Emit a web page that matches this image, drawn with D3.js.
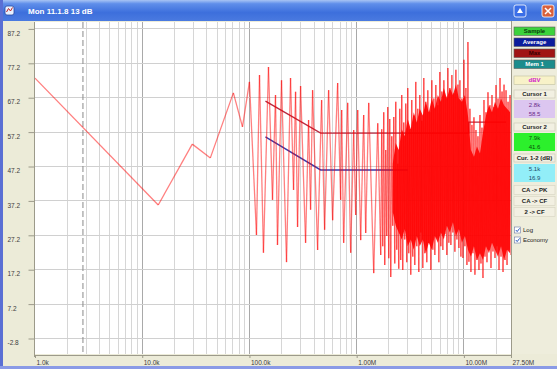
<!DOCTYPE html>
<html>
<head>
<meta charset="utf-8">
<script src="https://cdn.jsdelivr.net/npm/d3@7"></script>
<style>
  html, body { margin: 0; padding: 0; background: #ffffff; }
  svg { display: block; font-family: "Liberation Sans", "DejaVu Sans", Arial, sans-serif; }
</style>
</head>
<body>
<svg id="win" width="557" height="369"></svg>
<script>
// ---- window / axis text ----
const titleText = "Mon 11.1.8 13 dB";

const yTickValues = [87.2, 77.2, 67.2, 57.2, 47.2, 37.2, 27.2, 17.2, 7.2, -2.8];
const yTickLabels = ["87.2", "77.2", "67.2", "57.2", "47.2", "37.2", "27.2", "17.2", "7.2", "-2.8"];

// frequencies in kHz
const xTickValues = [1, 10, 100, 1000, 10000, 27500];
const xTickLabels = ["1.0k", "10.0k", "100.0k", "1.00M", "10.00M", "27.50M"];

// ---- spectrum trace (kHz, dB) ----
const traceKHz = [
  1, 14.1, 29.3, 43.2, 70.8, 86.1, 100,
  116.3, 124.1, 135.1, 150.5, 164.1, 175.0, 182.6, 199.1, 221.7, 241.6,
  257.8, 269.2, 280.9, 299.7, 333.8, 355.9, 371.6, 388.0, 432.1, 470.9,
  502.2, 547.4, 596.7, 664.4, 708.8, 724.2, 756.0, 824.1, 879.0, 937.6,
  978.8, 1022, 1090, 1162, 1214, 1295, 1442, 1572,
  1676, 1712, 1750, 1788, 1827, 1866, 1907, 1949, 1991, 2034,
  2079, 2124, 2170, 2218, 2266, 2315, 2365, 2417, 2469, 2523,
  2576, 2632, 2689, 2748, 2808, 2869, 2931, 2995, 3060, 3127,
  3195, 3264, 3336, 3408, 3483, 3558, 3636, 3715, 3796, 3878,
  3963, 4049, 4137, 4227, 4319, 4413, 4509, 4607, 4708, 4810,
  4915, 5022, 5131, 5243, 5357, 5473, 5593, 5714, 5839, 5966,
  6096, 6228, 6364, 6503, 6644, 6789, 6937, 7088, 7242, 7400,
  7561, 7725, 7894, 8065, 8241, 8420, 8604, 8791, 8983, 9178,
  9378, 9582, 9791, 10004, 10222, 10444, 10672, 10904, 11141, 11384,
  11632, 11885, 12144, 12408, 12678, 12954, 13236, 13524, 13819, 14119,
  14427, 14741, 15062, 15390, 15725, 16067, 16417, 16774, 17139, 17512,
  17893, 18283, 18681, 19088, 19503, 19928, 20361, 20805, 21257, 21720,
  22192, 22676, 23169, 23674, 24188, 24715, 25252, 25802, 26363, 26937,
  27400
];
const traceDb = [
  72.9, 36.0, 53.7, 49.7, 68.6, 58.7, 71.8,
  27.3, 73.8, 22.1, 76.1, 37.5, 68.0, 24.4, 72.3, 19.4, 72.9,
  40.4, 68.9, 29.6, 70.6, 25.0, 60.7, 34.6, 69.4, 22.9, 66.5,
  28.8, 69.4, 31.6, 71.5, 37.5, 63.6, 25.0, 65.7, 22.1, 57.8,
  33.1, 63.6, 25.8, 62.2, 27.9, 65.7, 16.2, 59.8,
  21.5, 58.0, 24.0, 63.0, 18.6, 52.0, 27.0, 64.5, 20.5, 61.0,
  15.1, 56.0, 30.0, 61.6, 19.0, 66.0, 23.0, 48.0, 17.5, 64.0,
  20.0, 68.0, 17.1, 60.0, 26.0, 65.5, 19.4, 70.0, 22.0, 58.0,
  15.7, 66.5, 21.0, 62.0, 18.6, 71.8, 24.0, 64.0, 16.5, 68.0,
  28.0, 60.5, 17.7, 72.9, 22.0, 66.0, 19.4, 69.4, 25.0, 63.0,
  17.1, 72.3, 23.0, 67.0, 21.5, 70.9, 26.5, 65.0, 19.4, 74.7,
  24.0, 69.0, 22.9, 72.3, 27.5, 67.5, 21.5, 75.8, 25.0, 70.0,
  24.4, 73.8, 28.0, 68.5, 22.4, 75.3, 26.0, 71.0, 23.5, 72.3,
  21.0, 67.0, 20.6, 78.2, 24.0, 70.0, 18.6, 83.4, 19.5, 64.0,
  16.5, 59.3, 22.0, 61.5, 15.7, 57.8, 20.0, 56.0, 17.1, 62.2,
  19.0, 58.5, 14.8, 66.5, 21.0, 63.0, 19.4, 68.8, 23.0, 65.0,
  17.7, 68.0, 22.5, 64.5, 20.6, 70.9, 24.0, 67.0, 17.1, 72.9,
  21.0, 69.0, 16.5, 71.0, 20.0, 69.4, 18.6, 66.0, 23.0, 68.0,
  21.5
];

// dense part of the spectrum: lower / upper level of the filled core
const coreKHz = [2170, 2315, 2469, 2632, 2808, 2995, 3195, 3408, 3636, 3878,
                 4137, 4413, 4708, 5022, 5357, 5714, 6096, 6503, 6937, 7400,
                 7894, 8420, 8983, 9582, 10222, 10904, 11632, 12408, 13236, 14119,
                 15062, 16067, 17139, 18283, 19503, 20805, 22192, 23674, 25252, 26937];
const coreLowDb = [34, 30, 28, 26, 29, 24, 26, 23, 27, 24,
                   26, 22, 25, 23, 27, 25, 28, 26, 30, 28,
                   31, 27, 29, 25, 27, 23, 21, 24, 20, 22,
                   20, 24, 22, 25, 23, 21, 24, 20, 23, 22];
const coreHighDb = [48, 54, 52, 58, 56, 61, 58, 63, 60, 64,
                    62, 66, 63, 67, 64, 68, 66, 70, 67, 70,
                    68, 71, 67, 66, 68, 62, 52, 50, 53, 51,
                    57, 62, 65, 63, 66, 64, 67, 65, 64, 63];

// limit curves
const maxKHz = [141, 461, 11100, 11100, 24700];
const maxDb = [66.2, 56.9, 56.9, 60.1, 60.1];
const avgKHz = [141, 461, 3000];
const avgDb = [55.8, 46.2, 46.2];

const cursor1KHz = 2.8;

// ---- side panel text ----
const modeButtons = ["Sample", "Average", "Max", "Mem 1"];
const unitLabel = "dBV";
const cursor1Values = ["2.8k", "58.5"];
const cursor2Values = ["7.9k", "41.6"];
const deltaValues = ["5.1k", "16.9"];
const actionLabels = ["CA -> PK", "CA -> CF", "2 -> CF"];
const checkLabels = ["Log", "Economy"];

// ================= drawing =================
const svg = d3.select("#win");
const W = 557, H = 369;
const plot = { left: 35, right: 511, top: 22, bottom: 354 };

const x = d3.scaleLog().domain([1, 27500]).range([plot.left, plot.right]);
const y = d3.scaleLinear().domain([87.2, -2.8]).range([28.9, 338.5]);

const defs = svg.append("defs");
const tg = defs.append("linearGradient").attr("id", "titleGrad").attr("x1", 0).attr("y1", 0).attr("x2", 0).attr("y2", 1);
tg.append("stop").attr("offset", "0%").attr("stop-color", "#a8c4f4");
tg.append("stop").attr("offset", "18%").attr("stop-color", "#5f8eea");
tg.append("stop").attr("offset", "60%").attr("stop-color", "#3d6fdc");
tg.append("stop").attr("offset", "100%").attr("stop-color", "#4a7ae0");
defs.append("clipPath").attr("id", "plotClip").append("rect")
  .attr("x", plot.left).attr("y", plot.top)
  .attr("width", plot.right - plot.left).attr("height", plot.bottom - plot.top);

// window frame
svg.append("rect").attr("width", W).attr("height", H).attr("fill", "#ecebd8");
svg.append("rect").attr("width", W).attr("height", 21).attr("fill", "url(#titleGrad)");
svg.append("rect").attr("x", 0).attr("y", 0).attr("width", 3).attr("height", H).attr("fill", "#5a6fd4");
svg.append("rect").attr("x", 0).attr("y", H - 3).attr("width", W).attr("height", 3).attr("fill", "#8a9ae6");

// title icon and text
svg.append("rect").attr("x", 5).attr("y", 6).attr("width", 9).attr("height", 9).attr("rx", 2)
  .attr("fill", "#e8f0ff").attr("stroke", "#2a4aa0").attr("stroke-width", 0.8);
svg.append("path").attr("d", "M6.5 12 L8.5 8.5 L10.5 11 L12.5 7.5").attr("fill", "none")
  .attr("stroke", "#c02020").attr("stroke-width", 1);
svg.append("text").attr("x", 28).attr("y", 14).attr("fill", "#ffffff")
  .attr("font-size", 8).attr("font-weight", "bold").text(titleText);

// caption buttons
svg.append("rect").attr("x", 514).attr("y", 5).attr("width", 12).attr("height", 12).attr("rx", 2)
  .attr("fill", "#3a6ee8").attr("stroke", "#ffffff").attr("stroke-width", 0.8);
svg.append("path").attr("d", "M517 13 L520 8 L523 13 Z").attr("fill", "#ffffff");
svg.append("rect").attr("x", 542).attr("y", 5).attr("width", 12).attr("height", 12).attr("rx", 2)
  .attr("fill", "#d8603c").attr("stroke", "#ffffff").attr("stroke-width", 0.8);
svg.append("path").attr("d", "M545 8 L551 14 M551 8 L545 14").attr("stroke", "#ffffff").attr("stroke-width", 1.5);

// plot background
svg.append("rect").attr("x", plot.left).attr("y", plot.top)
  .attr("width", plot.right - plot.left).attr("height", plot.bottom - plot.top).attr("fill", "#ffffff");

// grid
const gridG = svg.append("g").attr("clip-path", "url(#plotClip)");
const minorFreqs = [];
[1, 10, 100, 1000, 10000].forEach(dec => { for (let k = 2; k <= 9; k++) minorFreqs.push(dec * k); });
gridG.selectAll("line.vminor").data(minorFreqs.filter(f => f < 27500)).join("line")
  .attr("x1", d => x(d)).attr("x2", d => x(d)).attr("y1", plot.top).attr("y2", plot.bottom)
  .attr("stroke", "#d6d6d6").attr("stroke-width", 1).attr("shape-rendering", "crispEdges");
gridG.selectAll("line.vmajor").data([10, 100, 1000, 10000]).join("line")
  .attr("x1", d => x(d)).attr("x2", d => x(d)).attr("y1", plot.top).attr("y2", plot.bottom)
  .attr("stroke", "#a9a9a9").attr("stroke-width", 1).attr("shape-rendering", "crispEdges");
gridG.selectAll("line.h").data(yTickValues).join("line")
  .attr("x1", plot.left).attr("x2", plot.right).attr("y1", d => y(d)).attr("y2", d => y(d))
  .attr("stroke", "#d0d0d0").attr("stroke-width", 1).attr("shape-rendering", "crispEdges");

// cursor 1
gridG.append("line").attr("x1", x(cursor1KHz)).attr("x2", x(cursor1KHz))
  .attr("y1", plot.top).attr("y2", plot.bottom)
  .attr("stroke", "#8a8a8a").attr("stroke-width", 1).attr("stroke-dasharray", "6,3");

// limit curves
const curveLine = d3.line().x(d => x(d[0])).y(d => y(d[1]));
const dataG = svg.append("g").attr("clip-path", "url(#plotClip)");
dataG.append("path").datum(maxKHz.map((f, i) => [f, maxDb[i]]))
  .attr("d", curveLine).attr("fill", "none").attr("stroke", "#b82a40").attr("stroke-width", 1.4);
dataG.append("path").datum(avgKHz.map((f, i) => [f, avgDb[i]]))
  .attr("d", curveLine).attr("fill", "none").attr("stroke", "#3a3aa8").attr("stroke-width", 1.4);

// filled core of the dense spectrum
const coreArea = d3.area().x(d => x(d[0])).y0(d => y(d[1])).y1(d => y(d[2]));
dataG.append("path").datum(coreKHz.map((f, i) => [f, coreLowDb[i], coreHighDb[i]]))
  .attr("d", coreArea).attr("fill", "#ff0000").attr("fill-opacity", 0.88);

// spectrum trace, one segment per pair so overlaps build up
const segs = d3.range(traceKHz.length - 1).map(i => [traceKHz[i], traceDb[i], traceKHz[i + 1], traceDb[i + 1]]);
dataG.selectAll("line.seg").data(segs).join("line")
  .attr("x1", d => x(d[0])).attr("y1", d => y(d[1]))
  .attr("x2", d => x(d[2])).attr("y2", d => y(d[3]))
  .attr("stroke", "#ff0000").attr("stroke-opacity", 0.5).attr("stroke-width", 1.3);

// axes
const xAxis = d3.axisBottom(x).tickValues(xTickValues).tickFormat((d, i) => xTickLabels[i]).tickSize(3).tickPadding(2);
const gx = svg.append("g").attr("transform", `translate(0,${plot.bottom + 1})`).call(xAxis);
gx.select(".domain").attr("stroke", "#9c9a8a");
gx.selectAll(".tick line").attr("stroke", "#9c9a8a");
gx.selectAll(".tick text").attr("text-anchor", "start").attr("dx", 1).attr("font-size", 6.5)
  .attr("fill", "#3c3c3c").attr("font-family", "Liberation Sans, Arial, sans-serif");

const yAxis = d3.axisLeft(y).tickValues(yTickValues).tickFormat((d, i) => yTickLabels[i]).tickSize(6).tickPadding(0);
const gy = svg.append("g").attr("transform", `translate(${plot.left - 0.5},0)`).call(yAxis);
gy.select(".domain").attr("stroke", "#9c9a8a").attr("d", `M0,${plot.top}V${plot.bottom + 3}`);
gy.selectAll(".tick line").attr("stroke", "#9c9a8a");
gy.selectAll(".tick text").attr("text-anchor", "start").attr("x", -27).attr("dy", "0.95em")
  .attr("font-size", 6.5).attr("fill", "#3c3c3c").attr("font-family", "Liberation Sans, Arial, sans-serif");

// side panel
const panel = svg.append("g");
panel.append("rect").attr("x", 512).attr("y", 21).attr("width", 45).attr("height", plot.bottom - 21)
  .attr("fill", "#eeeddc");
panel.append("line").attr("x1", 511.5).attr("x2", 511.5).attr("y1", 21).attr("y2", plot.bottom + 2)
  .attr("stroke", "#9c9a8a");

function box(yTop, h, fill, stroke) {
  panel.append("rect").attr("x", 514).attr("y", yTop).attr("width", 41).attr("height", h)
    .attr("fill", fill).attr("stroke", stroke || "none").attr("stroke-width", 0.6);
}
function label(txt, yc, color, bold) {
  panel.append("text").attr("x", 534.5).attr("y", yc).attr("dy", "0.35em").attr("text-anchor", "middle")
    .attr("font-size", 6).attr("font-weight", bold ? "bold" : "normal").attr("fill", color).text(txt);
}

const modeStyles = [
  { bg: "#3cd23c", fg: "#0a3a0a" },
  { bg: "#0c1c9c", fg: "#ffffff" },
  { bg: "#a01414", fg: "#3a0000" },
  { bg: "#1c8c8c", fg: "#ffffff" }
];
modeButtons.forEach((t, i) => {
  const yt = 27 + i * 11;
  box(yt, 8.5, modeStyles[i].bg, "#606060");
  label(t, yt + 4.3, modeStyles[i].fg, true);
});

box(76, 8.5, "#f8f2c8", "#c0c0a0");
label(unitLabel, 80.3, "#d020c8", true);

box(90, 8, "#f2f0e2", "#c8c6b4");
label("Cursor 1", 94, "#202020", true);
box(100, 18, "#dcc6f0", "none");
label(cursor1Values[0], 104.5, "#6a2a8a", false);
label(cursor1Values[1], 114, "#6a2a8a", false);

box(123, 8, "#f2f0e2", "#c8c6b4");
label("Cursor 2", 127, "#202020", true);
box(133, 18, "#2cf02c", "none");
label(cursor2Values[0], 137.5, "#0a4a0a", false);
label(cursor2Values[1], 147, "#0a4a0a", false);

box(154, 8, "#f2f0e2", "#c8c6b4");
label("Cur. 1-2 (dB)", 158, "#202020", true);
box(164, 18, "#92eef8", "none");
label(deltaValues[0], 168.5, "#1a4a6a", false);
label(deltaValues[1], 178, "#1a4a6a", false);

actionLabels.forEach((t, i) => {
  const yc = 190 + i * 11;
  box(yc - 4.5, 9, "#f2f0e2", "#d6d4c2");
  label(t, yc, "#202020", true);
});

checkLabels.forEach((t, i) => {
  const yc = 230 + i * 10;
  panel.append("rect").attr("x", 514.5).attr("y", yc - 3).attr("width", 6).attr("height", 6)
    .attr("fill", "#ffffff").attr("stroke", "#6a7aa8").attr("stroke-width", 0.6);
  panel.append("path").attr("d", `M515.8 ${yc} L517.2 ${yc + 1.6} L519.6 ${yc - 1.6}`)
    .attr("fill", "none").attr("stroke", "#2a5ac0").attr("stroke-width", 1);
  panel.append("text").attr("x", 523).attr("y", yc).attr("dy", "0.35em")
    .attr("font-size", 6).attr("fill", "#202020").text(t);
});
</script>
</body>
</html>
